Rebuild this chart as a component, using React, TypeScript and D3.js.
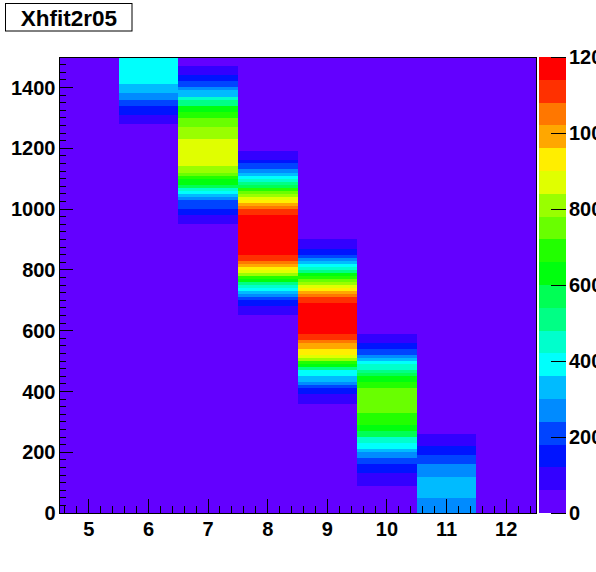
import React from "react";
import * as d3 from "d3";

// ---- data (bin runs per x-bin: [yLow, yHigh, content]) ----
const title = "Xhfit2r05";
const xBins = [6, 7, 8, 9, 10, 11];
const col6 = [[1410,1500,390],[1380,1410,330],[1360,1380,270],[1340,1360,210],[1310,1340,150],[1280,1310,90]];
const col7 = [[1440,1470,90],[1420,1440,150],[1400,1420,210],[1390,1400,270],[1370,1390,330],[1360,1370,450],[1340,1360,510],[1320,1340,630],[1300,1320,690],[1270,1300,750],[1230,1270,810],[1140,1230,870],[1120,1140,810],[1110,1120,750],[1100,1110,690],[1080,1100,630],[1070,1080,570],[1060,1070,450],[1050,1060,390],[1040,1050,330],[1030,1040,270],[1000,1030,210],[980,1000,150],[950,980,90]];
const col8 = [[1160,1190,90],[1150,1160,150],[1130,1150,210],[1120,1130,270],[1110,1120,330],[1100,1110,390],[1090,1100,450],[1080,1090,510],[1070,1080,570],[1060,1070,690],[1050,1060,750],[1040,1050,810],[1030,1040,870],[1020,1030,930],[1010,1020,990],[1000,1010,1050],[980,1000,1110],[850,980,1170],[830,850,1110],[820,830,1050],[810,820,990],[800,810,930],[790,800,870],[780,790,810],[770,780,690],[760,770,630],[750,760,510],[740,750,450],[730,740,390],[720,730,330],[710,720,270],[700,710,210],[680,700,150],[650,680,90]];
const col9 = [[870,900,90],[850,870,150],[840,850,210],[830,840,270],[820,830,330],[810,820,390],[800,810,450],[790,800,510],[780,790,630],[770,780,690],[760,770,750],[750,760,810],[740,750,870],[730,740,930],[720,730,990],[710,720,1050],[690,710,1110],[590,690,1170],[570,590,1110],[560,570,1050],[540,560,990],[520,540,930],[510,520,870],[500,510,810],[490,500,690],[480,490,630],[470,480,510],[450,470,390],[430,450,330],[420,430,270],[410,420,210],[390,410,150],[360,390,90]];
const col10 = [[560,590,90],[540,560,150],[520,540,210],[510,520,270],[500,510,330],[490,500,390],[470,490,450],[460,470,510],[450,460,570],[430,450,630],[410,430,690],[330,410,750],[290,330,690],[270,290,630],[250,270,570],[230,250,450],[210,230,390],[200,210,330],[180,200,270],[160,180,210],[130,160,150],[90,130,90]];
const col11 = [[220,260,90],[190,220,150],[160,190,210],[120,160,270],[50,120,330],[0,50,270]];
const columns = [col6, col7, col8, col9, col10, col11];

const xTickLabels = [5, 6, 7, 8, 9, 10, 11, 12];
const yTickLabels = [0, 200, 400, 600, 800, 1000, 1200, 1400];
const zTickLabels = [0, 200, 400, 600, 800, 1000, 1200];
const xDomain = [4.5, 12.5];
const yDomain = [0, 1500];
const zDomain = [0, 1200];
const nLevels = 20;

const FONT = "'Liberation Sans', Arial, Helvetica, sans-serif";

// ROOT "pretty palette" (hue 280 -> 0), 50 colours, 20 contour levels
const levelColor = (j: number) => {
  const idx = Math.floor((j + 0.99) * 50 / nLevels);
  const hue = 280 - (idx + 1) * 5.6;
  return d3.hsl(hue, 1, 0.5).formatHex();
};

export default function App() {
  const L = 59, R = 536, T = 57, B = 513;
  const x = d3.scaleLinear().domain(xDomain).range([L, R]);
  const y = d3.scaleLinear().domain(yDomain).range([B, T]);
  const z = d3.scaleLinear().domain(zDomain).range([B, T]);
  const colorOf = (v: number) => {
    const j = Math.max(0, Math.min(nLevels - 1, Math.floor((v - zDomain[0]) / (zDomain[1] - zDomain[0]) * nLevels)));
    return levelColor(j);
  };

  const xMinor = d3.range(46, 125, 2).map(v => v / 10).filter(v => Math.abs(v - Math.round(v)) > 1e-6);
  const yMinor = d3.range(25, 1500, 25).filter(v => v % 200 !== 0);
  const pL = 539, pR = 566;
  const levels = d3.range(nLevels);
  const step = (zDomain[1] - zDomain[0]) / nLevels;

  return (
    <svg width={596} height={572} style={{ position: "absolute", left: 0, top: 0, background: "#fff" }}>
      <rect x={0} y={0} width={596} height={572} fill="#fff" />
      {/* frame background = lowest level */}
      <rect x={L} y={T} width={R - L} height={B - T} fill={levelColor(0)} />
      <g shapeRendering="crispEdges">
        {columns.map((runs, ci) =>
          runs.map((r, k) => (
            <rect key={ci + "-" + k}
              x={x(xBins[ci] - 0.5)} width={x(xBins[ci] + 0.5) - x(xBins[ci] - 0.5)}
              y={y(r[1])} height={y(r[0]) - y(r[1])}
              fill={colorOf(r[2])} />
          ))
        )}
      </g>
      {/* axes ticks */}
      <g stroke="#000" strokeWidth={1} shapeRendering="crispEdges">
        {xTickLabels.map(v => <line key={"xM" + v} x1={x(v)} x2={x(v)} y1={B} y2={B - 13.7} />)}
        {xMinor.map(v => <line key={"xm" + v} x1={x(v)} x2={x(v)} y1={B} y2={B - 6.8} />)}
        {yTickLabels.map(v => <line key={"yM" + v} x1={L} x2={L + 14.3} y1={y(v)} y2={y(v)} />)}
        {yMinor.map(v => <line key={"ym" + v} x1={L} x2={L + 7.2} y1={y(v)} y2={y(v)} />)}
        <rect x={L} y={T} width={R - L} height={B - T} fill="none" />
      </g>
      {/* palette */}
      <g shapeRendering="crispEdges">
        {levels.map(j => (
          <rect key={"p" + j} x={pL} width={pR - pL}
            y={z(zDomain[0] + (j + 1) * step)} height={z(zDomain[0] + j * step) - z(zDomain[0] + (j + 1) * step)}
            fill={levelColor(j)} />
        ))}
        <g stroke="#000" strokeWidth={1}>
          {zTickLabels.map(v => <line key={"zt" + v} x1={pR - 15} x2={pR} y1={z(v)} y2={z(v)} />)}
        </g>
      </g>
      {/* labels */}
      <g fontFamily={FONT} fontWeight="bold" fontSize={20} fill="#000">
        {xTickLabels.map(v => <text key={"xl" + v} x={x(v)} y={536} textAnchor="middle">{v}</text>)}
        {yTickLabels.map(v => <text key={"yl" + v} x={55.5} y={y(v) + 7.2} textAnchor="end">{v}</text>)}
        {zTickLabels.map(v => <text key={"zl" + v} x={569} y={z(v) + 7.2} textAnchor="start">{v}</text>)}
      </g>
      {/* title box */}
      <rect x={5.5} y={3.5} width={126.5} height={27.5} fill="#fff" stroke="#000" strokeWidth={1} />
      <text x={69} y={26} textAnchor="middle" fontFamily={FONT} fontWeight="bold" fontSize={22.5}>{title}</text>
    </svg>
  );
}
